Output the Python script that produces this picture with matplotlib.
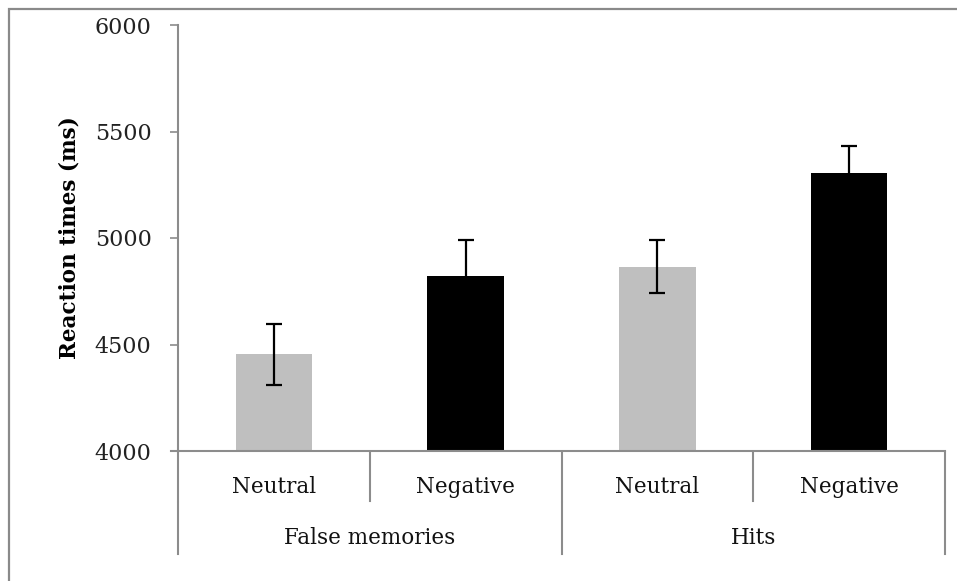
import matplotlib
matplotlib.use("Agg")
import matplotlib.pyplot as plt
from matplotlib.patches import Rectangle
from matplotlib.lines import Line2D

conditions = ["Neutral", "Negative", "Neutral", "Negative"]
groups = ["False memories", "Hits"]
values = [4455, 4820, 4865, 5305]
errors = [143, 172, 124, 128]
bar_colors = ["#BFBFBF", "#000000", "#BFBFBF", "#000000"]
yticks = [4000, 4500, 5000, 5500, 6000]
ylabel = "Reaction times (ms)"

W, H = 957, 581
fig = plt.figure(figsize=(W / 100, H / 100), dpi=100)
plt.rcParams['font.family'] = ['DejaVu Serif']

gray = "#8C8C8C"
# outer frame
fig.add_artist(Rectangle((9 / W, -0.1), 1.2, 1 - 9 / H + 0.1, transform=fig.transFigure,
                         fill=False, edgecolor="#8A8A8A", linewidth=1.6))

left, right = 178 / W, 945 / W
bottom, top = 1 - 451 / H, 1 - 25 / H
ax = fig.add_axes([left, bottom, right - left, top - bottom])

x = list(range(len(values)))
ax.bar(x, values, width=0.4, color=bar_colors, bottom=0, zorder=2)
ax.errorbar(x, values, yerr=errors, fmt="none", ecolor="black", elinewidth=1.6,
            capsize=6, capthick=1.6, zorder=3)

ax.set_xlim(-0.5, len(values) - 0.5)
ax.set_ylim(4000, 6000)
ax.set_yticks(yticks)
ax.set_yticklabels([str(t) for t in yticks], fontsize=16, color="#222222")
ax.tick_params(axis="y", direction="out", length=6, width=1.2, color=gray, pad=13)
ax.set_xticks([])
for s in ["top", "right"]:
    ax.spines[s].set_visible(False)
for s in ["left", "bottom"]:
    ax.spines[s].set_color(gray)
    ax.spines[s].set_linewidth(1.5)
ax.set_ylabel(ylabel, fontsize=15.5, fontweight="bold", labelpad=10)

# multi-level category axis
def fy(py):
    return 1 - py / H

trans = ax.get_xaxis_transform()
fig.add_artist(Line2D([171 / W, left], [bottom, bottom], transform=fig.transFigure,
                      color=gray, linewidth=1.5))
for i, lab in enumerate(conditions):
    ax.text(i, (fy(487) - bottom) / (top - bottom), lab, transform=trans,
            ha="center", va="center", fontsize=15.5, color="#111111", clip_on=False)
for i in range(len(values) + 1):
    xb = i - 0.5
    y0 = (fy(452) - bottom) / (top - bottom)
    y1 = (fy(501) - bottom) / (top - bottom)
    ax.plot([xb, xb], [y0, y1], transform=trans, color=gray, linewidth=1.5, clip_on=False)
for g, lab in enumerate(groups):
    ax.text(2 * g + 0.5, (fy(538) - bottom) / (top - bottom), lab, transform=trans,
            ha="center", va="center", fontsize=15.5, color="#111111", clip_on=False)
for g in range(len(groups) + 1):
    xb = 2 * g - 0.5
    y0 = (fy(503) - bottom) / (top - bottom)
    y1 = (fy(554) - bottom) / (top - bottom)
    ax.plot([xb, xb], [y0, y1], transform=trans, color=gray, linewidth=1.5, clip_on=False)

fig.savefig("out.png", dpi=100)
